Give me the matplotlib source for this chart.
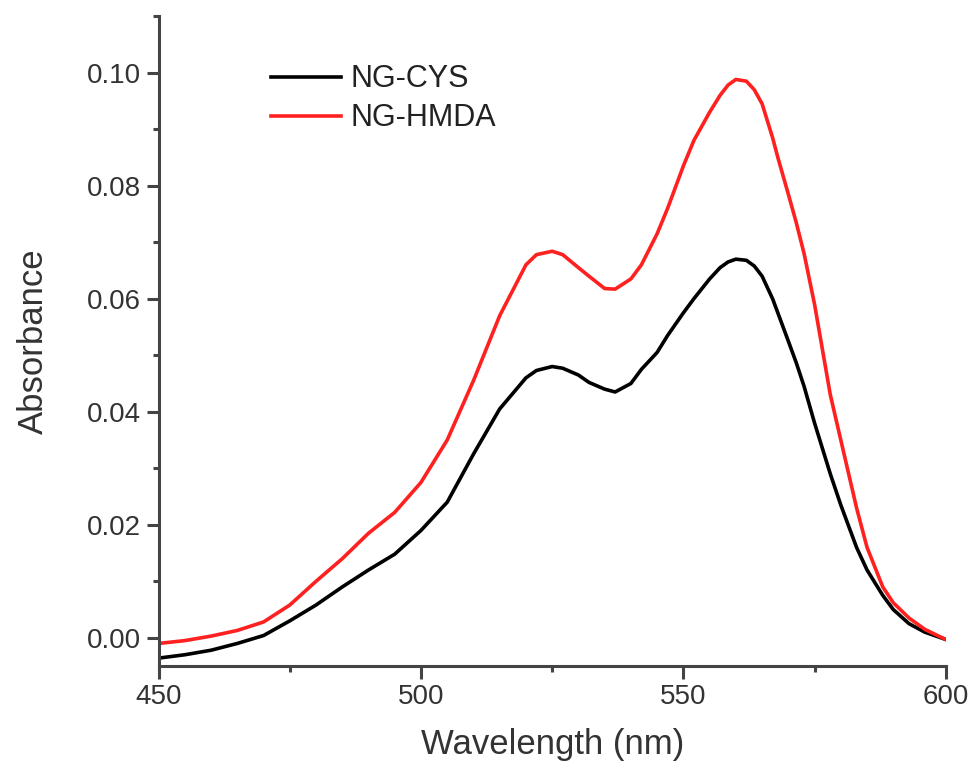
import numpy as np
import matplotlib
matplotlib.use('Agg')
import matplotlib.pyplot as plt
from matplotlib.ticker import MultipleLocator

plt.rcParams['font.family'] = ['Liberation Sans', 'DejaVu Sans']

# wavelength (nm) and absorbance
wavelength = [450, 455, 460, 465, 470, 475, 480, 485, 490, 495, 500, 505, 510,
              515, 520, 522, 525, 527, 530, 532, 535, 537, 540, 542, 545, 547,
              550, 552, 555, 557, 558.5, 560, 562, 563.5, 565, 567, 568, 570,
              571.5, 573, 575, 578, 580, 583, 585, 588, 590, 593, 596, 600]
ng_cys = [-0.0036, -0.0030, -0.0022, -0.0010, 0.0004, 0.0030, 0.0058, 0.0090,
          0.0120, 0.0148, 0.0190, 0.0240, 0.0325, 0.0405, 0.0460, 0.0473,
          0.0480, 0.0477, 0.0465, 0.0452, 0.0440, 0.0435, 0.0450, 0.0475,
          0.0505, 0.0535, 0.0575, 0.0600, 0.0635, 0.0655, 0.0665, 0.0670,
          0.0668, 0.0658, 0.0640, 0.0600, 0.0575, 0.0525, 0.0487, 0.0445,
          0.0380, 0.0290, 0.0235, 0.0160, 0.0120, 0.0075, 0.0050, 0.0025,
          0.0010, -0.0003]
ng_hmda = [-0.0010, -0.0005, 0.0003, 0.0013, 0.0028, 0.0058, 0.0100, 0.0140,
           0.0185, 0.0222, 0.0275, 0.0350, 0.0455, 0.0570, 0.0660, 0.0678,
           0.0684, 0.0678, 0.0655, 0.0640, 0.0618, 0.0617, 0.0635, 0.0660,
           0.0715, 0.0760, 0.0835, 0.0880, 0.0930, 0.0960, 0.0978, 0.0988,
           0.0985, 0.0970, 0.0945, 0.0885, 0.0850, 0.0785, 0.0735, 0.0680,
           0.0590, 0.0430, 0.0350, 0.0230, 0.0160, 0.0090, 0.0062, 0.0035,
           0.0015, -0.0003]

fig = plt.figure(figsize=(9.73, 7.7), dpi=100)
ax = fig.add_axes([0.163, 0.135, 0.809, 0.844])

ax.plot(wavelength, ng_cys, color='black', lw=2.6, label='NG-CYS')
ax.plot(wavelength, ng_hmda, color='#ff2020', lw=2.6, label='NG-HMDA')

ax.set_xlim(450, 600)
ax.set_ylim(-0.005, 0.11)
ax.xaxis.set_major_locator(MultipleLocator(50))
ax.xaxis.set_minor_locator(MultipleLocator(25))
ax.yaxis.set_minor_locator(MultipleLocator(0.01))
ax.set_yticks([0.0, 0.02, 0.04, 0.06, 0.08, 0.10])
ax.set_yticklabels(['0.00', '0.02', '0.04', '0.06', '0.08', '0.10'])

for s in ['top', 'right']:
    ax.spines[s].set_visible(False)
for s in ['left', 'bottom']:
    ax.spines[s].set_color('#444444')
    ax.spines[s].set_linewidth(2.2)

ax.tick_params(which='major', length=9, width=2.2, color='#444444',
               labelsize=20, labelcolor='#333333', pad=4)
ax.tick_params(which='minor', length=4.5, width=2.2, color='#444444')

ax.set_xlabel('Wavelength (nm)', fontsize=25, color='#333333', labelpad=13)
ax.set_ylabel('Absorbance', fontsize=25, color='#333333', labelpad=26)

ax.legend(loc='upper left', bbox_to_anchor=(0.143, 0.926), frameon=False,
          fontsize=22, handlelength=2.3, handletextpad=0.3, labelspacing=0.3,
          borderpad=0, borderaxespad=0, labelcolor='#222222')

fig.savefig('out.png', dpi=100)
